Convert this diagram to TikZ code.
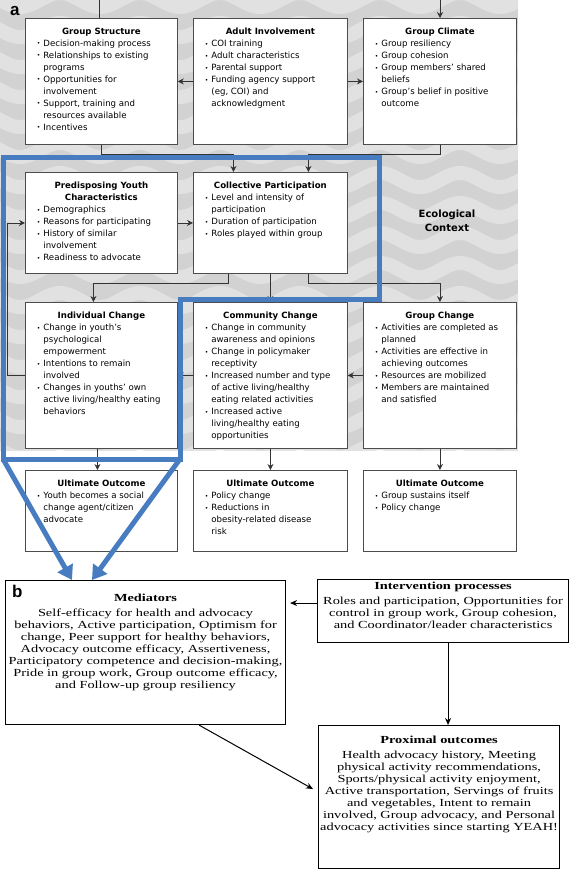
\documentclass[tikz,border=0pt]{standalone}
\usepackage{fontspec}
\setmainfont{DejaVu Sans}
\newfontfamily\panelbfont[FakeStretch=1.33]{Liberation Serif}
\newfontfamily\tagfont{Liberation Sans}
\usetikzlibrary{arrows.meta,calc}

\definecolor{focusblue}{RGB}{72,124,192}
\definecolor{bggray}{RGB}{210,210,210}
\definecolor{bglight}{RGB}{225,225,225}

% bullet list used inside the panel a boxes
\newenvironment{factorlist}{%
  \begin{list}{\raisebox{0.8pt}{\fontsize{6}{6}\selectfont\textbullet}}{%
    \setlength{\leftmargin}{18pt}\setlength{\labelwidth}{5pt}%
    \setlength{\labelsep}{3pt}\setlength{\itemsep}{0pt}%
    \setlength{\parsep}{0pt}\setlength{\topsep}{0pt}%
    \setlength{\partopsep}{0pt}\setlength{\itemindent}{0pt}}%
  \raggedright}{\end{list}}

% width, height, title, items
\newcommand{\factor}[4]{%
  \begin{minipage}[t][#2][t]{#1}%
    \fontsize{8.6}{12}\selectfont
    \vspace*{10pt}%
    {\centering\bfseries #3\par}%
    \begin{factorlist}#4\end{factorlist}%
  \end{minipage}}

% width, height, top gap, title, text
\newcommand{\outcome}[5]{%
  \begin{minipage}[t][#2][t]{#1}%
    \panelbfont\fontsize{10.8}{12}\selectfont
    \vspace*{#3}%
    \centering\textbf{#4}\\[3.5pt]#5\par
  \end{minipage}}

\tikzset{
  factor/.style={draw=black!70, line width=0.8pt, fill=white, inner sep=0pt, anchor=north west},
  outcome/.style={draw=black, line width=1.1pt, fill=white, inner sep=0pt, anchor=north west},
  link/.style={draw=black!80, line width=0.8pt},
  flow/.style={link, -{Stealth[length=6pt,width=6pt]}},
  flowb/.style={draw=black, line width=1pt, -{Stealth[length=7pt,width=6pt]}},
  focus/.style={draw=focusblue, line width=5pt, line join=miter},
  waveband/.style={draw=bglight, line width=14pt},
  tag/.style={font=\tagfont\fontsize{17}{17}\selectfont\bfseries, inner sep=0pt, anchor=base west},
  context/.style={font=\fontsize{10}{14}\selectfont\bfseries, align=center, inner sep=0pt}
}

\begin{document}
\begin{tikzpicture}[x=1pt,y=-1pt]
  \useasboundingbox (0,0) rectangle (570,870);

  % ecological context background
  \begin{scope}
    \clip (0,0) rectangle (518,450);
    \fill[bggray] (0,0) rectangle (518,450);
    \foreach \k in {0,...,16}
      \draw[waveband] plot[domain=-10:530, samples=90, smooth] (\x, {\k*30 + 7*sin(4.5*\x)});
  \end{scope}

  \node[tag] (taga) at (10,15) {a};
  \node[context] (eco) at (447,221) {Ecological\\Context};

  % row 1
  \node[factor] (gs) at (25,18) {\factor{152pt}{126pt}{Group Structure}{%
    \item Decision-making process
    \item Relationships to existing\newline programs
    \item Opportunities for\newline involvement
    \item Support, training and\newline resources available
    \item Incentives}};
  \node[factor] (ai) at (193,18) {\factor{154pt}{126pt}{Adult Involvement}{%
    \item COI training
    \item Adult characteristics
    \item Parental support
    \item Funding agency support\newline (eg, COI) and\newline acknowledgment}};
  \node[factor] (gcl) at (363,18) {\factor{153pt}{126pt}{Group Climate}{%
    \item Group resiliency
    \item Group cohesion
    \item Group members’ shared\newline beliefs
    \item Group’s belief in positive\newline outcome}};

  % row 2
  \node[factor] (py) at (25,172) {\factor{152pt}{101pt}{Predisposing Youth\\Characteristics}{%
    \item Demographics
    \item Reasons for participating
    \item History of similar\newline involvement
    \item Readiness to advocate}};
  \node[factor] (cp) at (193,172) {\factor{154pt}{101pt}{Collective Participation}{%
    \item Level and intensity of\newline participation
    \item Duration of participation
    \item Roles played within group}};

  % row 3
  \node[factor] (ic) at (25,302) {\factor{152pt}{146pt}{Individual Change}{%
    \item Change in youth’s\newline psychological\newline empowerment
    \item Intentions to remain\newline involved
    \item Changes in youths’ own\newline active living/healthy eating\newline behaviors}};
  \node[factor] (cc) at (193,302) {\factor{154pt}{146pt}{Community Change}{%
    \item Change in community\newline awareness and opinions
    \item Change in policymaker\newline receptivity
    \item Increased number and type\newline of active living/healthy\newline eating related activities
    \item Increased active\newline living/healthy eating\newline opportunities}};
  \node[factor] (gc) at (363,302) {\factor{153pt}{146pt}{Group Change}{%
    \item Activities are completed as\newline planned
    \item Activities are effective in\newline achieving outcomes
    \item Resources are mobilized
    \item Members are maintained\newline and satisfied}};

  % row 4
  \node[factor] (uo1) at (25,470) {\factor{152pt}{81pt}{Ultimate Outcome}{%
    \item Youth becomes a social\newline change agent/citizen\newline advocate}};
  \node[factor] (uo2) at (193,470) {\factor{154pt}{81pt}{Ultimate Outcome}{%
    \item Policy change
    \item Reductions in\newline obesity-related disease\newline risk}};
  \node[factor] (uo3) at (363,470) {\factor{153pt}{81pt}{Ultimate Outcome}{%
    \item Group sustains itself
    \item Policy change}};

  % panel a connectors
  \coordinate (inA) at (99,0);
  \coordinate (inB) at (440,0);
  \draw[link] (inA) -- (inA |- gs.north);
  \draw[flow] (inB) -- (inB |- gcl.north);
  \draw[flow] (ai.west) -- (gs.east);
  \draw[flow] (ai.east) -- (gcl.west);
  \draw[flow] (gs.south) -- ++(0,10) -| ($(cp.north)+(-37,0)$);
  \draw[flow] (gcl.south) -- ++(0,10) -| ($(cp.north)+(38,0)$);
  \draw[flow] (py.east) -- (cp.west);
  \draw[flow] ($(cp.south)+(-42,0)$) -- ++(0,10) -| ($(ic.north)+(-8,0)$);
  \draw[flow] (cp.south) -- (cc.north);
  \draw[flow] ($(cp.south)+(38,0)$) -- ++(0,10) -| (gc.north);
  \draw[flow] (gc.west) -- (cc.east);
  \draw[flow] (cc.west) -- (ic.east);
  \draw[flow] (ic.west) -- ++(-18,0) |- (py.west);
  \draw[flow] ($(ic.south)+(-4,0)$) -- ($(uo1.north)+(-4,0)$);
  \draw[flow] (cc.south) -- (uo2.north);
  \draw[flow] (gc.south) -- (uo3.north);

  % panel b
  \node[outcome] (med) at (5,580) {\outcome{280pt}{144pt}{13pt}{Mediators}{%
    Self-efficacy for health and advocacy\\
    behaviors, Active participation, Optimism for\\
    change, Peer support for healthy behaviors,\\
    Advocacy outcome efficacy, Assertiveness,\\
    Participatory competence and decision-making,\\
    Pride in group work, Group outcome efficacy,\\
    and Follow-up group resiliency}};
  \node[outcome] (iv) at (317,579) {\outcome{251pt}{63pt}{2pt}{Intervention processes}{%
    Roles and participation, Opportunities for\\
    control in group work, Group cohesion,\\
    and Coordinator/leader characteristics}};
  \node[outcome] (px) at (318,725) {\outcome{241pt}{143pt}{10pt}{Proximal outcomes}{%
    Health advocacy history, Meeting\\
    physical activity recommendations,\\
    Sports/physical activity enjoyment,\\
    Active transportation, Servings of fruits\\
    and vegetables, Intent to remain\\
    involved, Group advocacy, and Personal\\
    advocacy activities since starting YEAH!}};
  \node[tag] (tagb) at (12,597) {b};

  \draw[flowb] ($(iv.west)+(0,-8)$) -- ($(med.east |- iv.west)+(4,-8)$);
  \draw[flowb] ($(iv.south)+(5,0)$) -- ($(iv.south |- px.north)+(5,0)$);
  \draw[flowb] ($(med.south east)+(-87,0)$) -- ($(px.west)+(-5,-8)$);

  % highlighted youth path and its link to the mediators
  \coordinate (focusSW) at (3,459);
  \coordinate (focusSE) at (180,459);
  \draw[focus] (3,157) -- (379,157) -- (379,299) -- (180,299) -- (focusSE) -- (focusSW) -- cycle;
  \draw[focus, -{Triangle[length=14pt,width=17pt]}] (focusSW) -- ($(med.north west)+(67,0)$);
  \draw[focus, -{Triangle[length=14pt,width=17pt]}] (focusSE) -- ($(med.north west)+(87,0)$);
\end{tikzpicture}
\end{document}
